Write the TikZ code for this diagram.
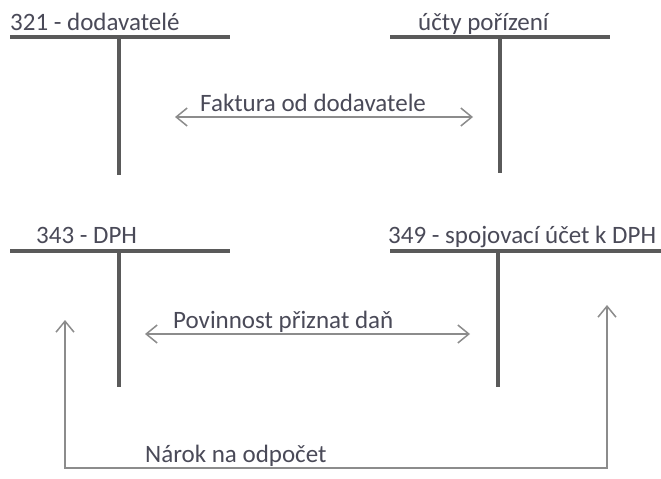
\documentclass[tikz,border=0pt]{standalone}
\usepackage{fontspec}
\setmainfont{Carlito}
\usetikzlibrary{arrows.meta}
\definecolor{tgray}{HTML}{5A5A5A}
\definecolor{agray}{HTML}{8C8C8C}
\definecolor{txtgray}{HTML}{4A4A58}
\begin{document}
\begin{tikzpicture}[x=1pt,y=-1pt,
  taccount/.style={line width=3.2pt, draw=tgray},
  flow/.style={line width=1.5pt, draw=agray, {Straight Barb[length=11pt,width=18pt]}-{Straight Barb[length=11pt,width=18pt]}},
  lbl/.style={font=\fontsize{25}{30}\selectfont, text=txtgray, inner sep=0pt, anchor=base west}]
\useasboundingbox[fill=white] (0,0) rectangle (661,479);
% T accounts
\coordinate (a1l) at (10,37); \coordinate (a1r) at (230,37); \coordinate (a1t) at (119,37); \coordinate (a1b) at (119,175);
\coordinate (a2l) at (390,37); \coordinate (a2r) at (610,37); \coordinate (a2t) at (500,37); \coordinate (a2b) at (500,173);
\coordinate (a3l) at (10,251); \coordinate (a3r) at (230,251); \coordinate (a3t) at (119,251); \coordinate (a3b) at (119,387);
\coordinate (a4l) at (390,251); \coordinate (a4r) at (661,251); \coordinate (a4t) at (498,251); \coordinate (a4b) at (498,387);
\draw[taccount] (a1l) -- (a1r); \draw[taccount] (a1t) -- (a1b);
\draw[taccount] (a2l) -- (a2r); \draw[taccount] (a2t) -- (a2b);
\draw[taccount] (a3l) -- (a3r); \draw[taccount] (a3t) -- (a3b);
\draw[taccount] (a4l) -- (a4r); \draw[taccount] (a4t) -- (a4b);
\node[lbl] (n1) at (10,30) {321 - dodavatelé};
\node[lbl] (n2) at (418,30) {účty pořízení};
\node[lbl] (n3) at (36,243) {343 - DPH};
\node[lbl] (n4) at (388,243) {349 - spojovací účet k DPH};
% flows
\coordinate (f1a) at (175,117); \coordinate (f1b) at (473,117);
\draw[flow] (f1a) -- (f1b);
\node[lbl] (l1) at (200,111) {Faktura od dodavatele};
\coordinate (f2a) at (145,334); \coordinate (f2b) at (470,334);
\draw[flow] (f2a) -- (f2b);
\node[lbl] (l2) at (173,328) {Povinnost přiznat daň};
\coordinate (f3a) at (65,320); \coordinate (f3c1) at (65,468); \coordinate (f3c2) at (607,468); \coordinate (f3b) at (607,305);
\draw[flow] (f3a) -- (f3c1) -- (f3c2) -- (f3b);
\node[lbl] (l3) at (145,462) {Nárok na odpočet};
\end{tikzpicture}
\end{document}
